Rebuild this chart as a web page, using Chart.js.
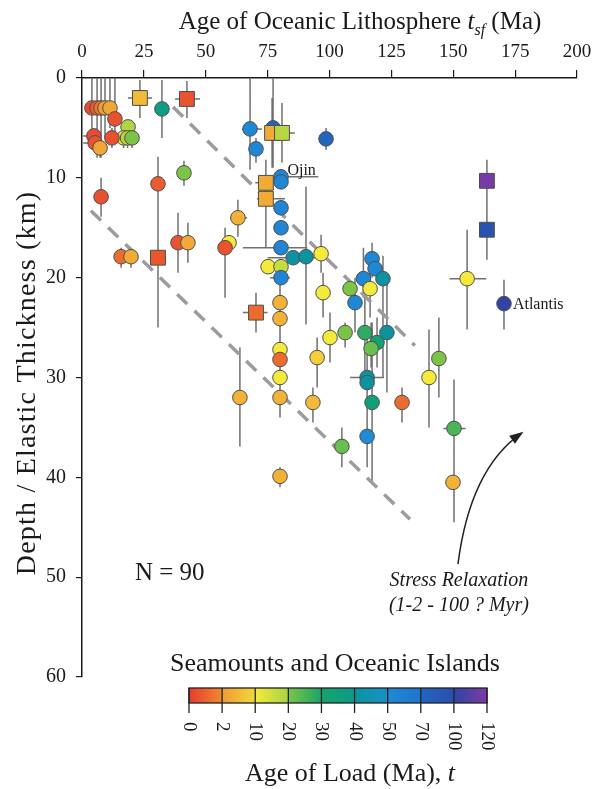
<!DOCTYPE html>
<html>
<head>
<meta charset="utf-8">
<script src="https://cdn.jsdelivr.net/npm/chart.js@4.4.1/dist/chart.umd.min.js"></script>
<style>
    html, body { margin: 0; padding: 0; background: #fff; }
    canvas { display: block; }
</style>
</head>
<body>
<canvas id="chart" width="595" height="789"></canvas>
<script>
// seafloor age at time of loading (Ma), top axis
const oceanAge = [
    4.0, 6.1, 7.7, 9.3, 11.3, 13.3, 23.4, 42.4, 32.3, 18.6,
    16.8, 18.4, 20.2, 4.8, 5.3, 7.3, 12.1, 67.9, 77.2, 76.8,
    80.8, 98.6, 70.3, 41.2, 30.7, 7.7, 74.3, 74.3, 63.0, 80.4,
    80.4, 80.4, 80.4, 80.4, 85.3, 90.5, 96.6, 75.2, 80.4, 80.4,
    97.4, 59.4, 57.8, 38.8, 42.8, 15.8, 19.8, 30.7, 117.2, 118.4,
    113.7, 121.6, 108.3, 116.4, 110.3, 80.0, 70.3, 80.0, 100.2, 106.3,
    114.3, 123.2, 119.2, 116.8, 80.0, 80.0, 95.0, 80.0, 144.2, 140.2,
    115.2, 115.2, 63.8, 80.0, 93.3, 117.2, 129.3, 115.2, 105.0, 150.3,
    80.0, 149.9, 163.6, 163.6, 155.6, 170.5,
];

// elastic thickness Te (km), left axis
const elasticThickness = [
    3.0, 3.0, 3.0, 3.0, 3.0, 4.1, 2.0, 2.1, 3.1, 4.9,
    6.0, 6.0, 6.0, 5.8, 6.5, 7.0, 6.0, 5.1, 5.0, 5.5,
    5.5, 6.1, 7.1, 9.5, 10.6, 11.9, 10.5, 12.1, 14.0, 9.9,
    10.4, 13.0, 15.0, 17.0, 18.0, 17.9, 17.6, 18.9, 18.9, 20.0,
    21.5, 16.5, 17.0, 16.5, 16.5, 17.9, 17.9, 18.0, 18.1, 19.1,
    20.1, 20.1, 21.1, 21.1, 22.5, 22.5, 23.5, 24.1, 26.0, 25.5,
    25.5, 25.5, 26.5, 27.1, 27.2, 28.2, 28.0, 30.0, 28.1, 30.0,
    30.0, 30.5, 32.0, 32.0, 32.5, 32.5, 32.5, 35.9, 36.9, 35.1,
    39.9, 40.5, 10.3, 15.2, 20.1, 22.6,
];

// age of the load (Ma), sets the marker colour
const loadAge = [
    0.4, 0.8, 1.5, 2.5, 3.5, 0.5, 6, 0.6, 38, 19,
    12, 18, 20, 0.4, 0.6, 3.5, 0.5, 52, 72, 4,
    18, 70, 52, 20, 0.8, 0.5, 4, 4, 5, 55,
    55, 55, 55, 55, 40, 40, 10, 10, 16, 55,
    10, 10, 0.6, 0.6, 4, 1.2, 4, 0.7, 52, 52,
    52, 40, 20, 10, 52, 5, 1.2, 5, 10, 20,
    28, 40, 33, 22, 10, 1.2, 9, 10, 20, 10,
    40, 40, 5, 5, 6, 35, 1.2, 50, 22, 25,
    5, 5, 118, 95, 10, 100,
];

// c = circle, r = square
const markerType = [
    'c', 'c', 'c', 'c', 'c', 'c', 'r', 'r', 'c', 'c',
    'c', 'c', 'c', 'c', 'c', 'c', 'c', 'c', 'c', 'r',
    'r', 'c', 'c', 'c', 'c', 'c', 'r', 'r', 'c', 'c',
    'c', 'c', 'c', 'c', 'c', 'c', 'c', 'c', 'c', 'c',
    'c', 'c', 'c', 'c', 'c', 'c', 'c', 'r', 'c', 'c',
    'c', 'c', 'c', 'c', 'c', 'c', 'r', 'c', 'c', 'c',
    'c', 'c', 'c', 'c', 'c', 'c', 'c', 'c', 'c', 'c',
    'c', 'c', 'c', 'c', 'c', 'c', 'c', 'c', 'c', 'c',
    'c', 'c', 'r', 'r', 'c', 'c',
];

// vertical error bars (Te range), null = none
const teLow = [
    0, 0, 0, 0, 0, 0, 0.2, 0.3, 0.2, null,
    5, 5, 5, null, null, 6, 5, 0, 0, 2,
    2.5, 5, 6, 8.3, 7.9, 10, 8.2, null, 12.2, null,
    null, null, null, null, null, 10.9, 15.7, null, null, null,
    19.5, null, 15, 13.5, 14.5, 17, 17, 12, 16.5, null,
    17, 17.8, null, 18, 20, null, 21.5, null, 23.5, 24.5,
    22, 20.2, 24, 24.5, 20, null, 26, null, 24, 25.2,
    null, 26, 27, null, 31, 24.5, 31, 28, 35, 30.2,
    39, null, 8.2, 12, 15.2, 20.2,
];
const teHigh = [
    6.5, 8, 8, 6, 5, 6, 4.0, 4.0, 6.0, null,
    7, 7, 7, null, null, 8, 7, 9.2, 9, 9,
    8.5, 7.2, 8.5, 10.8, 12, 13.9, 17, null, 15.9, null,
    null, null, null, null, null, 24.7, 19.5, null, null, null,
    24, null, 22, 19.5, 18.5, 19, 19, 25, 20, null,
    22, 30, null, 24, 25.5, null, 25.5, null, 28.5, 27,
    30, 31.5, 29, 29, 34, null, 31, null, 32, 35,
    null, 35, 36.9, null, 34.5, 40.5, 34.5, 39, 39, 44.5,
    41, null, 13, 18.2, 25.2, 25.2,
];

// horizontal error bars (lithosphere age range), null = none
const ageLow = [
    null, null, null, null, null, null, 18.6, 37.6, null, null,
    null, null, null, 0.5, 0.5, null, null, 64.6, null, null,
    77, null, null, null, null, null, 70, 70.7, 59.8, 75,
    null, null, null, 65, 75, null, null, null, null, 76,
    null, null, null, null, null, null, null, 27.5, null, null,
    null, null, null, null, null, null, 65, null, null, null,
    null, null, null, null, null, null, null, null, null, null,
    108.3, null, null, null, null, null, null, null, null, 146,
    null, null, null, null, 148.5, null,
];
const ageHigh = [
    null, null, null, null, null, null, 28.3, 47.7, null, null,
    null, null, null, 6, 8, null, null, 72.7, null, null,
    86, null, null, null, null, null, 79, 82, 66.7, 95.5,
    null, null, null, 91, 97, null, null, null, null, 84,
    null, null, null, null, null, null, null, 34, null, null,
    null, null, null, null, null, null, 75, null, null, null,
    null, null, null, null, null, null, null, null, null, null,
    122, null, null, null, null, null, null, null, null, 155,
    null, null, null, null, 163.3, null,
];

// dashed envelope lines
const upperBound = [{ x: 36.8, y: 2.9 }, { x: 134.5, y: 26.8 }];
const lowerBound = [{ x: 3.6, y: 13.3 }, { x: 132.5, y: 44.2 }];

// colour bar
const loadTicks = [0, 2, 10, 20, 30, 40, 50, 70, 100, 120];
const segStart = ['#e63c2e', '#f29a35', '#f4ea3b', '#7cc448', '#16a36a', '#0d93a0', '#1f8ad6', '#2066c0', '#2f44a4'];
const segEnd = ['#f08a30', '#f3d83a', '#a8d444', '#1aa468', '#0c9a88', '#1790c8', '#1f74cc', '#2b4fae', '#7e3aa8'];

const SERIF = "'Liberation Serif', 'DejaVu Serif', serif";

const hexToRgb = (hex) => [1, 3, 5].map((i) => parseInt(hex.slice(i, i + 2), 16));

const loadColor = (t) => {
    let i = loadTicks.length - 2;
    for (let k = 0; k < loadTicks.length - 1; k++) {
        if (t < loadTicks[k + 1]) { i = k; break; }
    }
    const f = Math.min(1, Math.max(0, (t - loadTicks[i]) / (loadTicks[i + 1] - loadTicks[i])));
    const a = hexToRgb(segStart[i]);
    const b = hexToRgb(segEnd[i]);
    const c = a.map((v, j) => Math.round(v + (b[j] - v) * f));
    return `rgb(${c[0]},${c[1]},${c[2]})`;
};

const errorBars = {
    id: 'errorBars',
    beforeDatasetsDraw(chart) {
        const { ctx, scales: { x, y } } = chart;
        ctx.save();
        ctx.strokeStyle = '#707070';
        ctx.lineWidth = 1.5;
        ctx.beginPath();
        oceanAge.forEach((age, i) => {
            const px = x.getPixelForValue(age);
            const py = y.getPixelForValue(elasticThickness[i]);
            if (teLow[i] !== null) {
                ctx.moveTo(px, y.getPixelForValue(teLow[i]));
                ctx.lineTo(px, y.getPixelForValue(teHigh[i]));
            }
            if (ageLow[i] !== null) {
                ctx.moveTo(x.getPixelForValue(ageLow[i]), py);
                ctx.lineTo(x.getPixelForValue(ageHigh[i]), py);
            }
        });
        ctx.stroke();
        ctx.restore();
    },
};

const overlay = {
    id: 'overlay',
    afterDraw(chart) {
        const { ctx, scales: { x, y } } = chart;
        ctx.save();
        ctx.fillStyle = '#1a1a1a';

        // top axis title with italic subscript
        const parts = [
            ['Age of Oceanic Lithosphere ', '', 25, 0],
            ['t', 'italic ', 25, 0],
            ['sf', 'italic ', 16, 6],
            [' (Ma)', '', 25, 0],
        ];
        let total = 0;
        parts.forEach(([s, st, sz]) => { ctx.font = `${st}${sz}px ${SERIF}`; total += ctx.measureText(s).width; });
        let tx = 360 - total / 2;
        ctx.textBaseline = 'alphabetic';
        ctx.textAlign = 'left';
        parts.forEach(([s, st, sz, dy]) => {
            ctx.font = `${st}${sz}px ${SERIF}`;
            ctx.fillText(s, tx, 29 + dy);
            tx += ctx.measureText(s).width;
        });

        // left axis title
        ctx.save();
        ctx.translate(35, 383);
        ctx.rotate(-Math.PI / 2);
        ctx.textAlign = 'center';
        ctx.font = `28px ${SERIF}`;
        ctx.letterSpacing = '1.2px';
        ctx.fillText('Depth / Elastic Thickness (km)', 0, 0);
        ctx.letterSpacing = '0px';
        ctx.restore();

        // annotations
        ctx.font = `25px ${SERIF}`;
        ctx.fillText('N = 90', x.getPixelForValue(21.4), y.getPixelForValue(50.3));
        ctx.font = `16px ${SERIF}`;
        ctx.fillText('Ojin', x.getPixelForValue(83.0), y.getPixelForValue(9.7));
        ctx.textBaseline = 'middle';
        ctx.fillText('Atlantis', x.getPixelForValue(174.1), y.getPixelForValue(22.7));
        ctx.textBaseline = 'alphabetic';
        ctx.textAlign = 'center';
        ctx.font = `italic 20px ${SERIF}`;
        ctx.fillText('Stress Relaxation', x.getPixelForValue(152.3), y.getPixelForValue(50.9));
        ctx.fillText('(1-2 - 100 ? Myr)', x.getPixelForValue(152.3), y.getPixelForValue(53.4));

        // curved arrow
        const sx = x.getPixelForValue(151.9), sy = y.getPixelForValue(48.7);
        const cx = x.getPixelForValue(156.8), cy = y.getPixelForValue(39.2);
        const ex = x.getPixelForValue(177.4), ey = y.getPixelForValue(35.6);
        ctx.strokeStyle = '#222';
        ctx.lineWidth = 1.5;
        ctx.beginPath();
        ctx.moveTo(sx, sy);
        ctx.quadraticCurveTo(cx, cy, ex, ey);
        ctx.stroke();
        const ang = Math.atan2(ey - cy, ex - cx);
        ctx.beginPath();
        ctx.moveTo(ex + 3 * Math.cos(ang), ey + 3 * Math.sin(ang));
        ctx.lineTo(ex - 11 * Math.cos(ang) + 5 * Math.sin(ang), ey - 11 * Math.sin(ang) - 5 * Math.cos(ang));
        ctx.lineTo(ex - 11 * Math.cos(ang) - 5 * Math.sin(ang), ey - 11 * Math.sin(ang) + 5 * Math.cos(ang));
        ctx.closePath();
        ctx.fillStyle = '#222';
        ctx.fill();

        // colour bar
        const barL = 189, barR = 487, barT = 688, barB = 703;
        const segW = (barR - barL) / (loadTicks.length - 1);
        ctx.fillStyle = '#1a1a1a';
        ctx.font = `26px ${SERIF}`;
        ctx.textAlign = 'center';
        ctx.fillText('Seamounts and Oceanic Islands', 335, 671);
        for (let i = 0; i < loadTicks.length - 1; i++) {
            const g = ctx.createLinearGradient(barL + i * segW, 0, barL + (i + 1) * segW, 0);
            g.addColorStop(0, segStart[i]);
            g.addColorStop(1, segEnd[i]);
            ctx.fillStyle = g;
            ctx.fillRect(barL + i * segW, barT, segW, barB - barT);
        }
        ctx.strokeStyle = '#222';
        ctx.lineWidth = 1.3;
        ctx.strokeRect(barL, barT, barR - barL, barB - barT);
        ctx.beginPath();
        loadTicks.forEach((t, i) => {
            const px = barL + i * segW;
            ctx.moveTo(px, barT);
            ctx.lineTo(px, barB + 10);
        });
        ctx.stroke();
        ctx.fillStyle = '#1a1a1a';
        ctx.font = `19px ${SERIF}`;
        ctx.textAlign = 'left';
        ctx.textBaseline = 'middle';
        loadTicks.forEach((t, i) => {
            ctx.save();
            ctx.translate(barL + i * segW, 722);
            ctx.rotate(Math.PI / 2);
            ctx.fillText(String(t), 0, 0);
            ctx.restore();
        });
        ctx.textBaseline = 'alphabetic';
        ctx.textAlign = 'left';
        const lead = 'Age of Load (Ma), ';
        ctx.font = `26px ${SERIF}`;
        const w1 = ctx.measureText(lead).width;
        ctx.font = `italic 26px ${SERIF}`;
        const w2 = ctx.measureText('t').width;
        const lx = 350 - (w1 + w2) / 2;
        ctx.font = `26px ${SERIF}`;
        ctx.fillText(lead, lx, 781);
        ctx.font = `italic 26px ${SERIF}`;
        ctx.fillText('t', lx + w1, 781);

        ctx.restore();
    },
};

Chart.defaults.font.family = SERIF;
Chart.defaults.color = '#1a1a1a';

new Chart(document.getElementById('chart'), {
    type: 'scatter',
    data: {
        datasets: [
            {
                data: oceanAge.map((age, i) => ({ x: age, y: elasticThickness[i] })),
                pointStyle: markerType.map((m) => (m === 'r' ? 'rect' : 'circle')),
                pointRadius: markerType.map((m) => (m === 'r' ? 10.5 : 7.3)),
                backgroundColor: loadAge.map(loadColor),
                borderColor: '#4d4d4d',
                borderWidth: 1,
                order: 1,
            },
            {
                data: upperBound,
                showLine: true,
                borderColor: '#9c9c9c',
                borderWidth: 3.5,
                borderDash: [14, 10],
                pointRadius: 0,
                order: 2,
            },
            {
                data: lowerBound,
                showLine: true,
                borderColor: '#9c9c9c',
                borderWidth: 3.5,
                borderDash: [14, 10],
                pointRadius: 0,
                order: 2,
            },
        ],
    },
    options: {
        responsive: false,
        animation: false,
        events: [],
        layout: { padding: { left: 0, top: 0, right: 18, bottom: 112 } },
        scales: {
            x: {
                type: 'linear',
                position: 'top',
                min: 0,
                max: 200,
                afterFit: (scale) => {
                    scale.height = 78;
                    scale.paddingLeft = 0;
                    scale.paddingRight = 0;
                },
                ticks: { stepSize: 25, padding: 7, font: { size: 19 }, color: '#1a1a1a' },
                grid: { drawOnChartArea: false, drawTicks: true, tickLength: 8, color: '#1a1a1a', lineWidth: 1.2 },
                border: { display: true, color: '#1a1a1a', width: 1.5 },
            },
            y: {
                type: 'linear',
                reverse: true,
                min: 0,
                max: 60,
                afterFit: (scale) => {
                    scale.width = 82;
                    scale.paddingTop = 0;
                    scale.paddingBottom = 0;
                },
                ticks: { stepSize: 10, padding: 10, font: { size: 20 }, color: '#1a1a1a' },
                grid: { drawOnChartArea: false, drawTicks: true, tickLength: 6, color: '#1a1a1a', lineWidth: 1.2 },
                border: { display: true, color: '#1a1a1a', width: 1.5 },
            },
        },
        plugins: {
            legend: { display: false },
            tooltip: { enabled: false },
        },
    },
    plugins: [errorBars, overlay],
});
</script>
</body>
</html>
